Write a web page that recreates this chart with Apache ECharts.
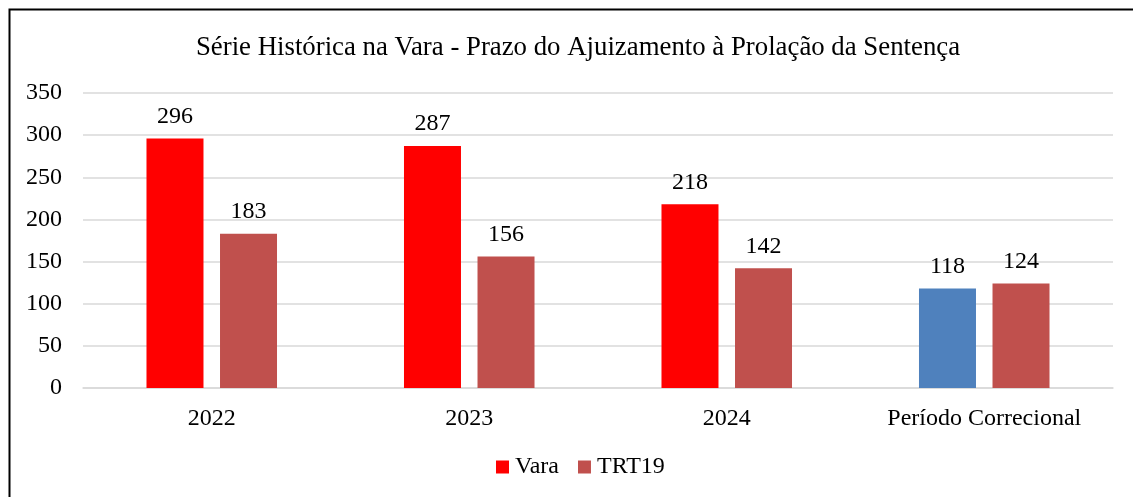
<!DOCTYPE html>
<html>
<head>
<meta charset="utf-8">
<script src="https://cdn.jsdelivr.net/npm/echarts@6/dist/echarts.min.js"></script>
<style>
html,body{margin:0;padding:0;background:#fff;}
#chart{width:1133px;height:497px;}
</style>
</head>
<body>
<div id="chart"></div>
<script>
var categories = ['2022', '2023', '2024', 'Período Correcional'];
var vara = [296, 287, 218, 118];
var trt19 = [183, 156, 142, 124];
var yTicks = [0, 50, 100, 150, 200, 250, 300, 350];

var serif = '"Liberation Serif", "Times New Roman", serif';
var chartObj = echarts.init(document.getElementById('chart'));

// ultima barra da Vara fica azul no original
var varaData = [];
for (var i = 0; i < vara.length; i++) {
	varaData.push({
		value: vara[i],
		itemStyle: { color: i == vara.length - 1 ? '#4F81BD' : '#FF0000' }
	});
}

var option = {
	animation: false,
	textStyle: { fontFamily: serif, color: '#000' },
	graphic: [{
		type: 'rect',
		shape: { x: 9.5, y: 9.5, width: 1140, height: 510 },
		style: { fill: 'none', stroke: '#000', lineWidth: 2 }
	}],
	title: {
		text: 'Série Histórica na Vara - Prazo do Ajuizamento à Prolação da Sentença',
		left: 573,
		top: 29,
		textAlign: 'center',
		textStyle: { fontFamily: serif, fontSize: 26.8, fontWeight: 'normal', color: '#000' }
	},
	legend: {
		data: [
			{ name: 'Vara', itemStyle: { color: '#FF0000' } },
			{ name: 'TRT19', itemStyle: { color: '#C0504D' } }
		],
		bottom: 13,
		left: 491,
		icon: 'rect',
		itemWidth: 13,
		itemHeight: 13,
		itemGap: 19,
		textStyle: { fontFamily: serif, fontSize: 24, color: '#000', padding: [0, 0, 0, 1] }
	},
	grid: { left: 83, right: 20, top: 93, bottom: 109, containLabel: false },
	xAxis: {
		type: 'category',
		data: categories,
		axisLine: { lineStyle: { color: '#d9d9d9', width: 1.5 } },
		axisTick: { show: false },
		axisLabel: { fontFamily: serif, fontSize: 24, color: '#000', margin: 19 }
	},
	yAxis: {
		type: 'value',
		min: yTicks[0],
		max: yTicks[yTicks.length - 1],
		interval: 50,
		axisLine: { show: false },
		axisTick: { show: false },
		splitLine: { lineStyle: { color: '#d9d9d9', width: 1.5 } },
		axisLabel: { fontFamily: serif, fontSize: 24, color: '#000', margin: 21 }
	},
	series: [
		{
			name: 'Vara',
			type: 'bar',
			data: varaData,
			itemStyle: { color: '#FF0000' },
			barWidth: 57,
			barGap: '29%',
			label: { show: true, position: 'top', distance: 10, fontFamily: serif, fontSize: 24, color: '#000' }
		},
		{
			name: 'TRT19',
			type: 'bar',
			data: trt19,
			itemStyle: { color: '#C0504D' },
			barWidth: 57,
			label: { show: true, position: 'top', distance: 10, fontFamily: serif, fontSize: 24, color: '#000' }
		}
	]
};
chartObj.setOption(option);
</script>
</body>
</html>
